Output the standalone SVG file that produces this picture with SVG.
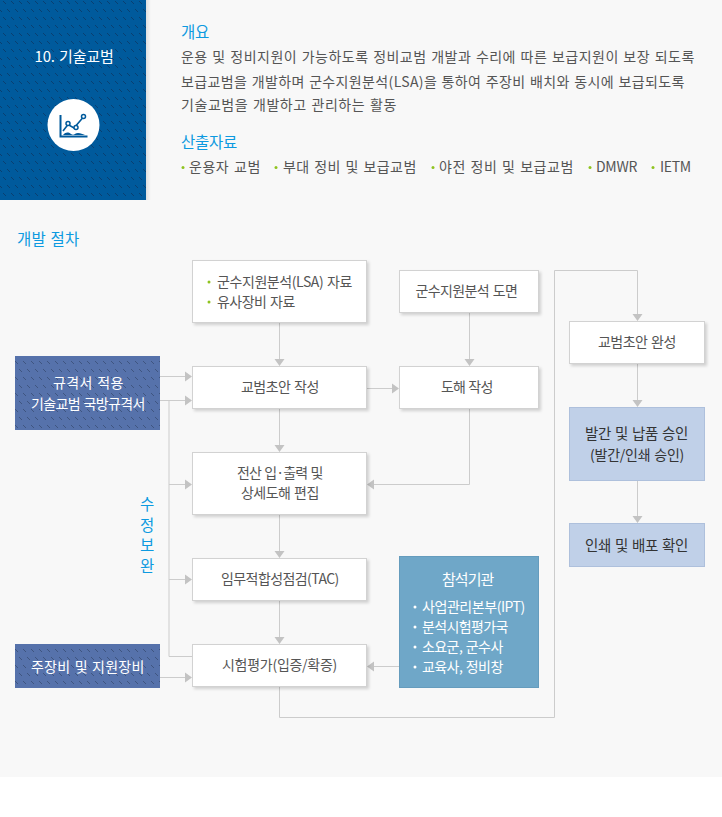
<svg xmlns="http://www.w3.org/2000/svg" width="722" height="817" viewBox="0 0 722 817">
<style>
text{font-family:"Noto Sans CJK KR","Noto Sans",sans-serif;font-size:14px;fill:#555;text-anchor:middle;letter-spacing:-.3px;word-spacing:1px}
.l{text-anchor:start}
.h{fill:#0d9ae0;font-size:15.5px}
.w{fill:#fff}
.d{fill:#333;font-size:14.5px}
.n{fill:#fff;stroke:#d2d2d2;stroke-width:1;filter:url(#s)}
.a{fill:#c3c3c3}
.c{fill:none;stroke:#ccc;stroke-width:1}
.g{fill:#8fc31f}
</style>
<defs>
<filter id="s" x="-5%" y="-10%" width="112%" height="125%"><feDropShadow dx="2" dy="2" stdDeviation="1.5" flood-color="#000" flood-opacity=".16"/></filter>
<pattern id="p1" width="16" height="16" patternUnits="userSpaceOnUse"><rect width="16" height="16" fill="#005a9c"/><path d="M3 1l3 3M11 1l3 3M7 9l3 3M15 9l3 3M-1 9l3 3" stroke="#0a3f70" stroke-width="1"/></pattern>
<pattern id="p2" width="16" height="16" patternUnits="userSpaceOnUse"><rect width="16" height="16" fill="#5672ab"/><path d="M3 1l3 3M11 1l3 3M7 9l3 3M15 9l3 3M-1 9l3 3" stroke="#3f5580" stroke-width="1"/></pattern>
<linearGradient id="sh"><stop offset="0" stop-color="#000" stop-opacity=".1"/><stop offset="1" stop-color="#000" stop-opacity="0"/></linearGradient>
</defs>
<rect width="722" height="817" fill="#fff"/>
<rect width="722" height="777" fill="#f8f8f8"/>
<g id="header">
<rect x="146" width="5" height="200" fill="url(#sh)"/>
<rect width="146" height="200" fill="url(#p1)"/>
<text class="w" x="74" y="62" textLength="79" style="font-size:15px">10. 기술교범</text>
<circle cx="73.500" cy="125" r="26" fill="#fff"/>
<path d="M60.500 115v21.500h27" fill="none" stroke="#005a9c" stroke-width="2"/>
<path d="M63 131l5-6.500 6 3.500 9-10.500" fill="none" stroke="#005a9c" stroke-width="1.600"/>
<path d="M63 135c3-3 5-3 8-1s4-1 7-1 4 1 7 2z" fill="#005a9c"/>
<circle cx="68" cy="123.500" r="2" fill="#fff" stroke="#005a9c" stroke-width="1.500"/>
<circle cx="76" cy="127.500" r="2" fill="#fff" stroke="#005a9c" stroke-width="1.500"/>
<circle cx="83.500" cy="116.500" r="2" fill="#fff" stroke="#005a9c" stroke-width="1.500"/>
</g>
<g id="overview">
<text class="l h" x="181" y="38">개요</text>
<text class="l" x="181" y="62" textLength="513">운용 및 정비지원이 가능하도록 정비교범 개발과 수리에 따른 보급지원이 보장 되도록</text>
<text class="l" x="181" y="87" textLength="503">보급교범을 개발하며 군수지원분석(LSA)을 통하여 주장비 배치와 동시에 보급되도록</text>
<text class="l" x="181" y="110" textLength="215">기술교범을 개발하고 관리하는 활동</text>
</g>
<g id="outputs">
<text class="l h" x="181" y="148">산출자료</text>
<circle class="g" cx="183" cy="167.500" r="1.500"/><text class="l" x="189" y="172" textLength="71">운용자 교범</text>
<circle class="g" cx="276" cy="167.500" r="1.500"/><text class="l" x="283" y="172" textLength="133">부대 정비 및 보급교범</text>
<circle class="g" cx="433" cy="167.500" r="1.500"/><text class="l" x="439" y="172" textLength="134">야전 정비 및 보급교범</text>
<circle class="g" cx="590" cy="167.500" r="1.500"/><text class="l" x="596" y="172">DMWR</text>
<circle class="g" cx="653" cy="167.500" r="1.500"/><text class="l" x="660" y="172">IETM</text>
</g>
<text class="l h" x="17" y="245" textLength="62">개발 절차</text>
<g id="connectors">
<path class="c" d="M279.500 323V359M469.500 313V359M160 376.500H185M160 400.500H185M169 400.500V656.500H192M169 484.500H185M169 579.500H185M160 677.500H185M367 388.500H392M279.500 409V445M279.500 515V551M279.500 601V637M469.500 409V484.500H374M399 666.500H374M279.500 687V717.500H554.500V270.500H637.500V314M637.500 364V400M637.500 480V516"/>
<path class="a" d="M274.500 359h10l-5 7zM464.500 359h10l-5 7zM274.500 445h10l-5 7zM274.500 551h10l-5 7zM274.500 637h10l-5 7zM632.500 314h10l-5 7zM632.500 400h10l-5 7zM632.500 516h10l-5 7zM185 371.500v10l7-5zM185 395.500v10l7-5zM185 479.500v10l7-5zM185 574.500v10l7-5zM185 672.500v10l7-5zM392 383.500v10l7-5zM374 479.500v10l-7-5zM374 661.500v10l-7-5z"/>
</g>
<g id="n-lsa"><rect class="n" x="192.500" y="260.500" width="174" height="62"/>
<circle class="g" cx="209" cy="282" r="1.500"/><text class="l" x="217" y="287" textLength="135">군수지원분석(LSA) 자료</text>
<circle class="g" cx="209" cy="302" r="1.500"/><text class="l" x="217" y="307" textLength="78">유사장비 자료</text></g>
<g id="n-drawing"><rect class="n" x="399.500" y="270.500" width="139" height="42"/><text x="466.500" y="296" textLength="102">군수지원분석 도면</text></g>
<g id="n-spec"><rect x="15" y="356" width="145" height="74" fill="url(#p2)"/><text class="w" x="88" y="388" textLength="70">규격서 적용</text><text class="w" x="88" y="409" textLength="114">기술교범 국방규격서</text></g>
<g id="n-draft"><rect class="n" x="192.500" y="366.500" width="174" height="42"/><text x="280" y="392" textLength="78">교범초안 작성</text></g>
<g id="n-illust"><rect class="n" x="399.500" y="366.500" width="139" height="42"/><text x="467" y="392" textLength="52">도해 작성</text></g>
<g id="n-edit"><rect class="n" x="192.500" y="452.500" width="174" height="62"/><text x="280" y="478" textLength="86">전산 입·출력 및</text><text x="280" y="498" textLength="78">상세도해 편집</text></g>
<g id="n-tac"><rect class="n" x="192.500" y="558.500" width="174" height="42"/><text x="280" y="584" textLength="118">임무적합성점검(TAC)</text></g>
<g id="n-test"><rect class="n" x="192.500" y="644.500" width="174" height="42"/><text x="279.500" y="670" textLength="115">시험평가(입증/확증)</text></g>
<g id="n-equip"><rect x="15" y="644" width="145" height="44" fill="url(#p2)"/><text class="w" x="87.500" y="672" textLength="113">주장비 및 지원장비</text></g>
<g id="n-org"><rect x="399.500" y="556.500" width="139" height="131" fill="#6fa7c8" stroke="#659cbd"/>
<text class="w" x="468" y="585" style="font-size:15px" textLength="52">참석기관</text>
<g fill="#fff"><circle cx="415" cy="607" r="1.500"/><circle cx="415" cy="627" r="1.500"/><circle cx="415" cy="647" r="1.500"/><circle cx="415" cy="667" r="1.500"/></g>
<text class="l w" x="422" y="612" textLength="103">사업관리본부(IPT)</text><text class="l w" x="422" y="632" textLength="86">분석시험평가국</text><text class="l w" x="422" y="652" textLength="81">소요군, 군수사</text><text class="l w" x="422" y="672" textLength="81">교육사, 정비창</text></g>
<g id="n-final"><rect class="n" x="569.500" y="321.500" width="135" height="42"/><text x="637" y="347" textLength="78">교범초안 완성</text></g>
<g id="n-approve"><rect x="569.500" y="407.500" width="135" height="73" fill="#c0d0e8" stroke="#aec0dc"/><text class="d" x="636.500" y="439" textLength="103">발간 및 납품 승인</text><text class="d" x="637" y="460" style="font-size:14px" textLength="94">(발간/인쇄 승인)</text></g>
<g id="n-print"><rect x="569.500" y="523.500" width="135" height="43" fill="#c0d0e8" stroke="#aec0dc"/><text class="d" x="636.500" y="551" textLength="103">인쇄 및 배포 확인</text></g>
<g id="revise"><text class="h" y="510"><tspan x="147">수</tspan><tspan x="147" dy="20.500">정</tspan><tspan x="147" dy="20.500">보</tspan><tspan x="147" dy="20.500">완</tspan></text></g>
</svg>
